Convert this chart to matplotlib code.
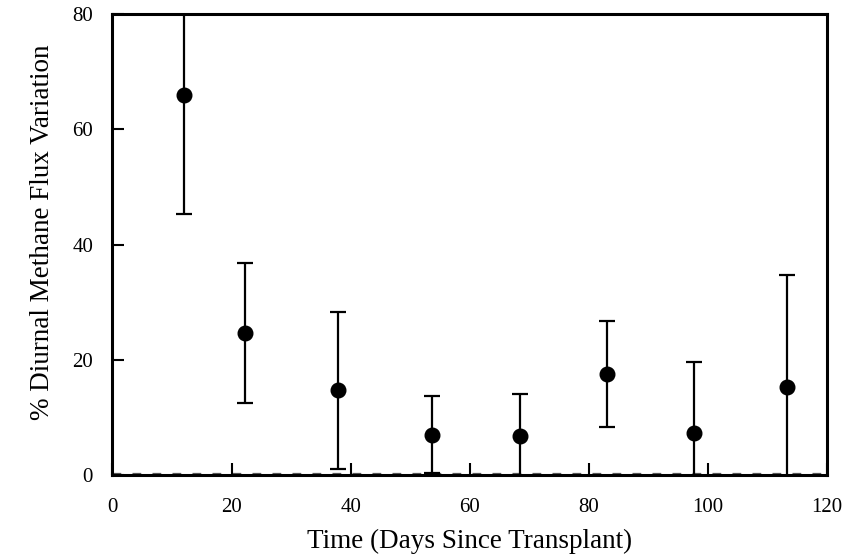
import numpy as np
import matplotlib
matplotlib.use("Agg")
import matplotlib.pyplot as plt

# values
days = [12.0, 22.3, 37.8, 53.6, 68.5, 83.0, 97.7, 113.2]
variation = [65.9, 24.7, 14.8, 7.1, 6.9, 17.6, 7.3, 15.3]
variation_err = [20.6, 12.1, 13.6, 6.7, 7.2, 9.2, 12.4, 19.4]

x_ticks = [0, 20, 40, 60, 80, 100, 120]
y_ticks = [0, 20, 40, 60, 80]

plt.rcParams['font.family'] = ['Liberation Serif', 'DejaVu Serif']

fig = plt.figure(figsize=(8.42, 5.59), dpi=100)
ax = fig.add_axes([0.1336, 0.1494, 0.8486, 0.8256])

# faint broken line along zero
ax.plot([0, 120], [0.35, 0.35], color='0.35', lw=0.9, dashes=(7, 9), zorder=1)

ax.errorbar(days, variation, yerr=variation_err, fmt='o', color='black',
            markersize=10.5, elinewidth=1.6, capsize=5.5, capthick=1.6, zorder=3)

ax.set_xlim(0, 120)
ax.set_ylim(0, 80)
ax.set_xticks(x_ticks)
ax.set_yticks(y_ticks)
ax.set_xticklabels([str(t) for t in x_ticks], fontsize=15)
ax.set_yticklabels([str(t) for t in y_ticks], fontsize=15)

ax.tick_params(direction='in', length=8.5, width=1.5, color='black')
ax.tick_params(axis='x', pad=16)
ax.tick_params(axis='y', pad=14)

for s in ax.spines.values():
    s.set_linewidth(2.2)

ax.set_xlabel('Time (Days Since Transplant)', fontsize=19.5, labelpad=9)
ax.set_ylabel('% Diurnal Methane Flux Variation', fontsize=19.5)
ax.yaxis.set_label_coords(-0.081, 0.527)

fig.savefig('out.png', dpi=100)
